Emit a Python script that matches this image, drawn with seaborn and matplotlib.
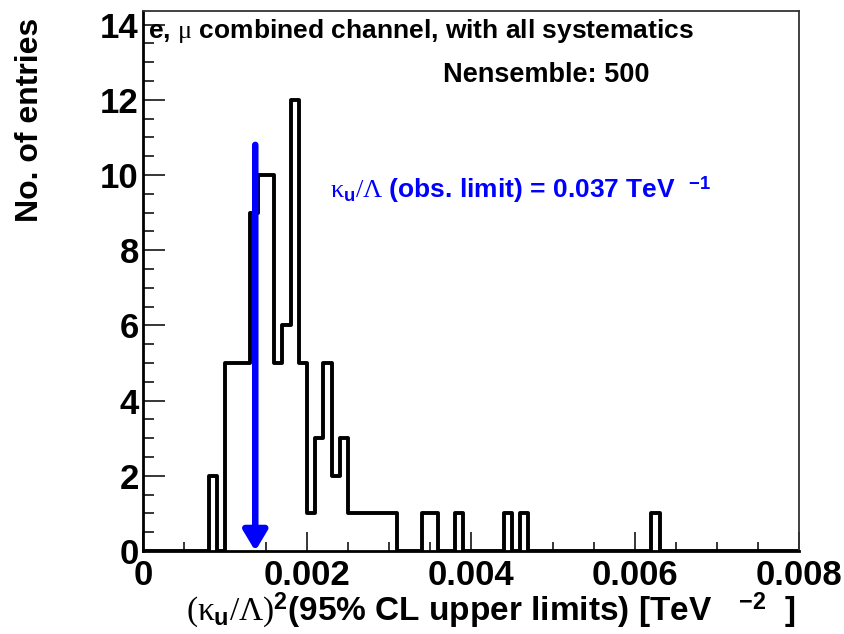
import numpy as np
import matplotlib
matplotlib.use('Agg')
import matplotlib.pyplot as plt
from matplotlib.ticker import MultipleLocator, FuncFormatter
import seaborn as sns

# 直方图数据 (bin 下边界, 每个 bin 的条目数), bin 宽 0.0001
BIN_WIDTH = 0.0001
bin_lo = [0.0008, 0.0010, 0.0011, 0.0012, 0.0013, 0.0014, 0.0015, 0.0016,
          0.0017, 0.0018, 0.0019, 0.0020, 0.0021, 0.0022, 0.0023, 0.0024,
          0.0025, 0.0026, 0.0027, 0.0028, 0.0029, 0.0030, 0.0034, 0.0035,
          0.0038, 0.0044, 0.0046, 0.0062]
n_entries = [2, 5, 5, 5, 9, 10, 10, 5,
             6, 12, 5, 1, 3, 5, 2, 3,
             1, 1, 1, 1, 1, 1, 1, 1,
             1, 1, 1, 1]

OBS_LIMIT = 0.037          # TeV^-1
ARROW_TOP = 10.8
X_RANGE = (0.0, 0.008)
Y_MAX = 14.36
x_ticks = [0.0, 0.002, 0.004, 0.006, 0.008]
y_ticks = [0, 2, 4, 6, 8, 10, 12, 14]

sns.set_theme(style='ticks')
plt.rcParams['font.family'] = ['Liberation Sans', 'DejaVu Sans']
plt.rcParams['font.weight'] = 'bold'
plt.rcParams['text.color'] = 'black'
plt.rcParams['xtick.color'] = 'black'
plt.rcParams['ytick.color'] = 'black'
plt.rcParams['mathtext.fontset'] = 'custom'
plt.rcParams['mathtext.rm'] = 'Liberation Serif:weight=normal'
plt.rcParams['mathtext.it'] = 'Liberation Serif:weight=normal'
plt.rcParams['mathtext.bf'] = 'Liberation Sans:bold'

fig = plt.figure(figsize=(8.45, 6.34), dpi=100)
ax = fig.add_axes([143 / 845, 1 - 551 / 634, 656 / 845, 540 / 634])
ax.set_facecolor('white')

centers = np.array(bin_lo) + BIN_WIDTH / 2
edges = np.linspace(X_RANGE[0], X_RANGE[1], 81).tolist()
sns.histplot(x=centers, weights=n_entries, bins=edges, element='step',
             fill=False, color='black', linewidth=2.8, ax=ax)

# 观测上限箭头
x_obs = OBS_LIMIT ** 2
ax.annotate('', xy=(x_obs, 0), xytext=(x_obs, ARROW_TOP),
            arrowprops=dict(arrowstyle='-|>,head_width=0.36,head_length=0.6',
                            color='blue', lw=4.7, shrinkA=0, shrinkB=0,
                            mutation_scale=20))

ax.set_xlim(*X_RANGE)
ax.set_ylim(0, Y_MAX)
ax.set_xlabel('')
ax.set_ylabel('')

ax.set_xticks(x_ticks)
ax.set_yticks(y_ticks)
ax.xaxis.set_minor_locator(MultipleLocator(0.0005))
ax.yaxis.set_minor_locator(MultipleLocator(0.5))
ax.xaxis.set_major_formatter(FuncFormatter(lambda v, p: '0' if v == 0 else f'{v:.3f}'))
ax.tick_params(axis='both', which='both', direction='in', colors='black',
               labelsize=25, width=1.1)
ax.tick_params(axis='x', which='major', length=13.5, pad=6)
ax.tick_params(axis='x', which='minor', length=6.5)
ax.tick_params(axis='y', which='major', length=16, pad=3)
ax.tick_params(axis='y', which='minor', length=8)
for lab in ax.get_xticklabels() + ax.get_yticklabels():
    lab.set_fontweight('bold')

for side in ['left', 'bottom']:
    ax.spines[side].set_linewidth(2.0)
    ax.spines[side].set_color('black')
for side in ['top', 'right']:
    ax.spines[side].set_linewidth(1.3)
    ax.spines[side].set_color('#333333')
    ax.spines[side].set_visible(True)

# 文字标注
fig.text(148 / 845, 1 - 31 / 634, r'e, $\mu$ combined channel, with all systematics',
         fontsize=19, fontweight='bold', ha='left', va='center')
fig.text(443 / 845, 1 - 75 / 634, 'Nensemble: 500',
         fontsize=19.5, fontweight='bold', ha='left', va='center')
fig.text(330 / 845, 1 - 190 / 634,
         r'$\kappa_{\mathbf{u}}/\Lambda$ (obs. limit) = 0.037 TeV  $^{\mathbf{-1}}$',
         fontsize=19, fontweight='bold', color='blue', ha='left', va='center')

fig.text(30 / 845, 1 - 18 / 634, 'No. of entries', rotation=90,
         fontsize=23, fontweight='bold', ha='center', va='top')
fig.text(796 / 845, 1 - 610 / 634,
         r'$(\kappa_{\mathbf{u}}/\Lambda)^{\mathbf{2}}$(95% CL upper limits) [TeV   $^{\mathbf{-2}}$  ]',
         fontsize=24, fontweight='bold', ha='right', va='center')

fig.savefig('out.png', dpi=100, facecolor='white')
